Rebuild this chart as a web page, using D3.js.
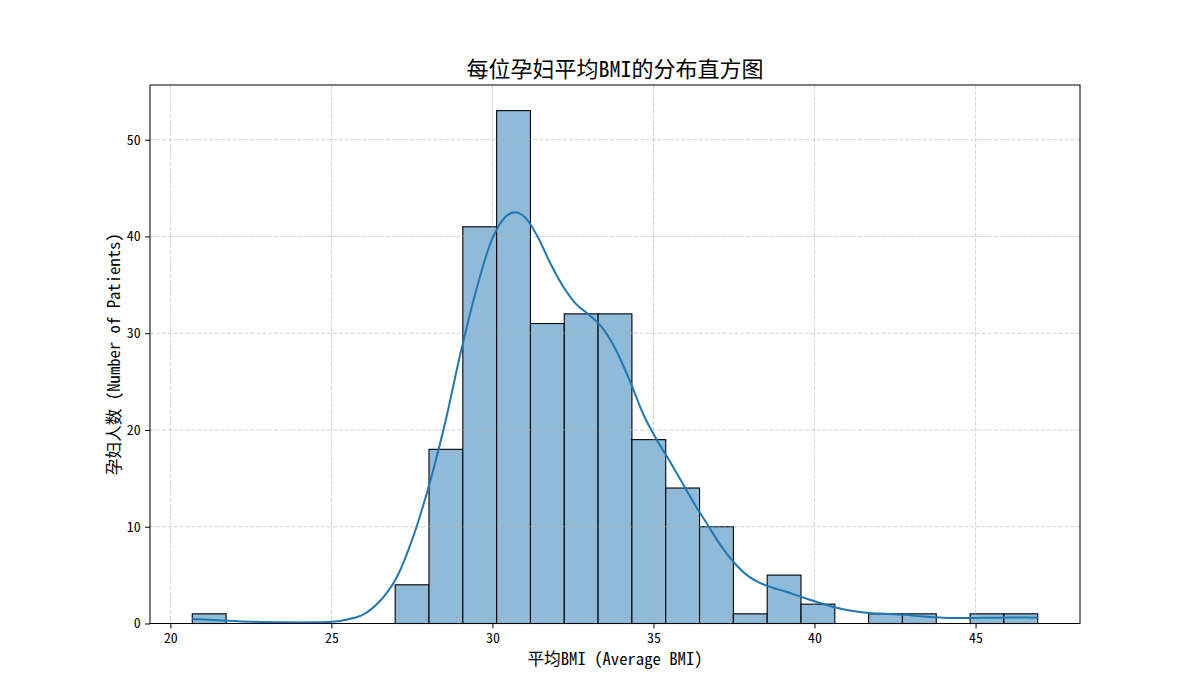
<!DOCTYPE html>
<html><head><meta charset="utf-8">
<script src="https://cdn.jsdelivr.net/npm/d3@7"></script>
<style>
body{margin:0;background:#fff;}
text{font-family:"Noto Sans Mono CJK SC","Noto Sans CJK SC","DejaVu Sans",sans-serif;}
</style></head>
<body><svg id="c" width="1200" height="700"></svg>
<script>
// Histogram: 25 equal bins from min to max
const binStart = 20.68;
const binEnd = 46.93;
const counts = [1,0,0,0,0,0,4,18,41,53,31,32,32,19,14,10,1,5,2,0,1,1,0,1,1];
// KDE curve (x = BMI, y = count scale)
const kdeX = [20.68,21.5,22.5,23.5,24.5,25.0,25.5,26.0,26.5,27.0,27.5,28.0,28.5,29.0,29.5,30.0,30.4,30.7,31.0,31.4,31.8,32.2,32.6,33.0,33.4,33.8,34.3,34.7,35.1,35.5,35.9,36.3,36.7,37.1,37.5,37.9,38.3,38.7,39.1,39.5,40.0,40.5,41.0,41.6,42.2,42.8,43.4,44.0,44.8,45.6,46.3,46.93];
const kdeY = [0.46,0.33,0.18,0.12,0.12,0.17,0.42,0.95,2.3,4.6,8.6,13.9,20.3,27.8,34.5,39.8,42.0,42.5,42.0,40.0,37.2,34.8,33.0,31.9,30.6,28.5,24.8,21.5,19.0,16.8,14.5,12.2,10.1,8.0,6.3,5.0,4.2,3.7,3.3,2.85,2.3,1.78,1.4,1.12,1.0,0.9,0.72,0.6,0.57,0.6,0.62,0.6];
const xTicks = [20,25,30,35,40,45];
const yTicks = [0,10,20,30,40,50];
const titleText = "每位孕妇平均BMI的分布直方图";
const xLabel = "平均BMI (Average BMI)";
const yLabel = "孕妇人数 (Number of Patients)";

const L=150,R=1080,T=85,B=623.5;
const svg=d3.select("#c");
const span=binEnd-binStart, pad=span*0.05;
const x=d3.scaleLinear().domain([binStart-pad,binEnd+pad]).range([L,R]);
const yMax=d3.max(counts)*1.05;
const y=d3.scaleLinear().domain([0,yMax]).range([B,T]);
const bw=span/counts.length;
const bins=counts.map((c,i)=>({x0:binStart+i*bw,x1:binStart+(i+1)*bw,c}));

// bars
svg.append("g").selectAll("rect").data(bins.filter(d=>d.c>0)).join("rect")
 .attr("x",d=>x(d.x0)).attr("width",d=>x(d.x1)-x(d.x0))
 .attr("y",d=>y(d.c)).attr("height",d=>y(0)-y(d.c))
 .attr("fill","#8fbbd9").attr("stroke","#000").attr("stroke-width",1.1);

// grid
const grid=svg.append("g").attr("stroke","#b0b0b0").attr("stroke-opacity",0.7)
 .attr("stroke-width",0.8).attr("stroke-dasharray","4.1,1.8");
grid.selectAll(".gx").data(xTicks).join("line").attr("x1",d=>x(d)).attr("x2",d=>x(d)).attr("y1",T).attr("y2",B);
grid.selectAll(".gy").data(yTicks).join("line").attr("y1",d=>y(d)).attr("y2",d=>y(d)).attr("x1",L).attr("x2",R);

// kde
const pts=kdeX.map((v,i)=>[v,kdeY[i]]);
svg.append("path").datum(pts)
 .attr("d",d3.line().x(d=>x(d[0])).y(d=>y(d[1])).curve(d3.curveCatmullRom.alpha(0.5)))
 .attr("fill","none").attr("stroke","#1f77b4").attr("stroke-width",2);

// frame
svg.append("rect").attr("x",L).attr("y",T).attr("width",R-L).attr("height",B-T)
 .attr("fill","none").attr("stroke","#000").attr("stroke-width",1);

// axes
const xa=svg.append("g").attr("transform",`translate(0,${B})`)
 .call(d3.axisBottom(x).tickValues(xTicks).tickSize(4.9).tickPadding(4.5).tickFormat(d3.format("d")));
const ya=svg.append("g").attr("transform",`translate(${L},0)`)
 .call(d3.axisLeft(y).tickValues(yTicks).tickSize(4.9).tickPadding(4.5).tickFormat(d3.format("d")));
[xa,ya].forEach(a=>{a.select(".domain").remove();
 a.selectAll("text").attr("font-size","13.9px").attr("fill","#000")
  .attr("font-family",'"Noto Sans Mono CJK SC","Noto Sans CJK SC",sans-serif');
 a.selectAll("line").attr("stroke","#000").attr("stroke-width",1);});

svg.append("text").attr("x",(L+R)/2).attr("y",77).attr("text-anchor","middle")
 .attr("font-size","22px").text(titleText);
svg.append("text").attr("x",(L+R)/2).attr("y",658).attr("dominant-baseline","central")
 .attr("text-anchor","middle").attr("font-size","16.7px").text(xLabel);
svg.append("text").attr("transform",`translate(113,${(T+B)/2}) rotate(-90)`)
 .attr("dominant-baseline","central").attr("text-anchor","middle").attr("font-size","16.7px").text(yLabel);
</script></body></html>
